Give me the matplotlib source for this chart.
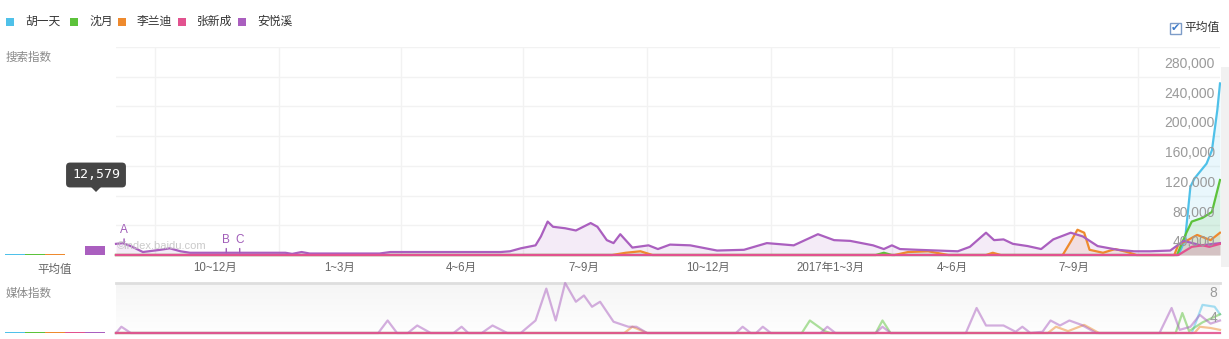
import numpy as np
import pandas as pd
import matplotlib
matplotlib.use('Agg')
import matplotlib.pyplot as plt
from matplotlib.patches import Rectangle, Polygon

plt.rcParams['font.family'] = ['Liberation Sans', 'Noto Sans CJK SC', 'DejaVu Sans']

Names = ['胡一天', '沈月', '李兰迪', '张新成', '安悦溪']
Colors = ['#4fc1e9', '#5cc23b', '#ee8a2e', '#e2528f', '#aa5fbf']

# 搜索指数 (search index)
HuDates = ['2015-09-02', '2017-10-31', '2017-11-05', '2017-11-09', '2017-11-12', '2017-11-21',
           '2017-11-25', '2017-11-29', '2017-12-01']
HuVals = [0, 0, 20000, 92000, 103000, 123000, 141000, 195000, 231000]

ShenDates = ['2015-09-02', '2017-03-20', '2017-03-26', '2017-04-01', '2017-10-30', '2017-11-06',
             '2017-11-10', '2017-11-18', '2017-11-25', '2017-12-01']
ShenVals = [0, 0, 3000, 0, 0, 30000, 45000, 50000, 58000, 101000]

LiDates = ['2015-09-02', '2016-09-05', '2016-09-15', '2016-09-26', '2016-10-05', '2017-04-03',
           '2017-04-13', '2017-04-28', '2017-05-13', '2017-06-10', '2017-06-15', '2017-06-21',
           '2017-08-06', '2017-08-12', '2017-08-17', '2017-08-22', '2017-08-26', '2017-09-05',
           '2017-09-14', '2017-09-23', '2017-09-30', '2017-10-28', '2017-10-31', '2017-11-05',
           '2017-11-14', '2017-11-24', '2017-12-01']
LiVals = [0, 0, 3000, 5000, 0, 0,
          4000, 5000, 0, 0, 3000, 0,
          0, 18000, 34000, 30000, 7000, 3000,
          8000, 4000, 0, 0, 14000, 18000,
          27000, 20000, 30000]

ZhangDates = ['2015-09-02', '2017-10-31', '2017-11-10', '2017-11-18', '2017-11-23', '2017-12-01']
ZhangVals = [0, 0, 11000, 13000, 11000, 15000]

AnDates = ['2015-09-02', '2015-09-07', '2015-09-13', '2015-09-22', '2015-10-05', '2015-10-12',
           '2015-10-20', '2015-10-27', '2015-12-11', '2016-01-06', '2016-01-11', '2016-01-18',
           '2016-01-24', '2016-03-16', '2016-03-24', '2016-05-07', '2016-06-14', '2016-06-21',
           '2016-06-29', '2016-07-10', '2016-07-14', '2016-07-19', '2016-07-23', '2016-08-01',
           '2016-08-09', '2016-08-20', '2016-08-25', '2016-09-01', '2016-09-06', '2016-09-11',
           '2016-09-16', '2016-09-20', '2016-10-02', '2016-10-09', '2016-10-18', '2016-11-02',
           '2016-11-22', '2016-12-12', '2016-12-29', '2017-01-18', '2017-02-05', '2017-02-17',
           '2017-03-01', '2017-03-18', '2017-03-26', '2017-04-01', '2017-04-07', '2017-04-20',
           '2017-05-20', '2017-05-29', '2017-06-10', '2017-06-16', '2017-06-23', '2017-06-30',
           '2017-07-11', '2017-07-21', '2017-07-30', '2017-08-12', '2017-08-21', '2017-09-01',
           '2017-09-16', '2017-09-28', '2017-10-10', '2017-10-25', '2017-11-04', '2017-11-17',
           '2017-12-01']
AnVals = [15000, 16000, 12000, 4000, 7000, 9000,
          5000, 3000, 3000, 3000, 1500, 4000,
          2000, 2000, 4000, 4000, 4000, 5000,
          9000, 13000, 25000, 45000, 38000, 36000,
          33000, 43000, 38000, 20000, 16000, 28000,
          18000, 10000, 13000, 8000, 14000, 13000,
          6000, 7000, 16000, 13000, 28000, 20000,
          19000, 13000, 8000, 13000, 8000, 7000,
          5000, 11000, 30000, 20000, 21000, 15000,
          12000, 8000, 21000, 30000, 25000, 12000,
          7000, 5000, 5000, 6000, 19000, 13000,
          16000]

# 媒体指数 (media index)
HuMediaDates = ['2015-09-02', '2017-11-10', '2017-11-18', '2017-11-27', '2017-12-01']
HuMediaVals = [0, 0, 4.5, 4.2, 3.0]

ShenMediaDates = ['2015-09-02', '2017-01-24', '2017-01-30', '2017-02-10', '2017-02-14', '2017-03-20',
                  '2017-03-25', '2017-03-31', '2017-10-29', '2017-11-03', '2017-11-08', '2017-11-18',
                  '2017-11-27', '2017-12-01']
ShenMediaVals = [0, 0, 2.0, 0.3, 0, 0, 2.0, 0, 0, 3.2, 0.3, 1.7, 2.6, 3.0]

LiMediaDates = ['2015-09-02', '2016-09-14', '2016-09-20', '2016-10-01', '2017-07-26', '2017-08-01',
                '2017-08-10', '2017-08-22', '2017-09-02', '2017-11-12', '2017-11-16', '2017-11-24',
                '2017-12-01']
LiMediaVals = [0, 0, 1.0, 0, 0, 1.0, 0.3, 1.3, 0, 0, 1.0, 0.8, 0.5]

ZhangMediaDates = ['2015-09-02', '2017-12-01']
ZhangMediaVals = [0, 0]

AnMediaDates = ['2015-09-02', '2015-09-06', '2015-09-13', '2016-03-15', '2016-03-22', '2016-03-29',
                '2016-04-06', '2016-04-13', '2016-04-23', '2016-05-10', '2016-05-16', '2016-05-21',
                '2016-05-31', '2016-06-08', '2016-06-19', '2016-06-29', '2016-07-10', '2016-07-18',
                '2016-07-25', '2016-08-01', '2016-08-09', '2016-08-15', '2016-08-21', '2016-08-27',
                '2016-09-06', '2016-09-17', '2016-09-23', '2016-10-01', '2016-12-06', '2016-12-11',
                '2016-12-17', '2016-12-21', '2016-12-26', '2017-01-01', '2017-02-07', '2017-02-12',
                '2017-02-18', '2017-03-20', '2017-03-25', '2017-03-31', '2017-05-26', '2017-06-03',
                '2017-06-10', '2017-06-23', '2017-07-02', '2017-07-07', '2017-07-13', '2017-07-22',
                '2017-07-28', '2017-08-04', '2017-08-11', '2017-08-20', '2017-08-31', '2017-10-17',
                '2017-10-26', '2017-11-01', '2017-11-09', '2017-11-16', '2017-11-24', '2017-12-01']
AnMediaVals = [0, 1.0, 0, 0, 2.0, 0,
               0, 1.2, 0, 0, 1.0, 0,
               0, 1.2, 0, 0, 2.0, 7.1,
               2.0, 8.0, 5.0, 6.0, 4.2, 5.0,
               1.8, 1.0, 1.0, 0, 0, 1.0,
               0, 0, 1.0, 0, 0, 1.0,
               0, 0, 1.0, 0, 0, 4.0,
               1.2, 1.2, 0.2, 1.0, 0, 0.2,
               2.0, 1.2, 2.0, 1.3, 0, 0,
               4.0, 0.5, 1.0, 2.9, 1.5, 2.0]

AvgVals = [1900, 900, 1100, 500, 12579]
MediaAvgVals = [0.15, 0.15, 0.15, 0.15, 0.15]

QuarterStarts = ['2015-10-01', '2016-01-01', '2016-04-01', '2016-07-01', '2016-10-01',
                 '2017-01-01', '2017-04-01', '2017-07-01', '2017-10-01']
QuarterLabelDates = ['2015-11-15', '2016-02-15', '2016-05-16', '2016-08-15', '2016-11-15',
                     '2017-02-14', '2017-05-16', '2017-08-14']
QuarterLabels = ['10~12月', '1~3月', '4~6月', '7~9月', '10~12月', '2017年1~3月', '4~6月', '7~9月']

SearchTicks = [40000, 80000, 120000, 160000, 200000, 240000, 280000]
MediaTicks = [4, 8]

EventLabels = ['A', 'B', 'C']
EventDates = ['2015-09-08', '2015-11-23', '2015-12-03']
EventVals = [16000, 3000, 3000]

SearchSeries = [(HuDates, HuVals), (ShenDates, ShenVals), (LiDates, LiVals),
                (ZhangDates, ZhangVals), (AnDates, AnVals)]
MediaSeries = [(HuMediaDates, HuMediaVals), (ShenMediaDates, ShenMediaVals), (LiMediaDates, LiMediaVals),
               (ZhangMediaDates, ZhangMediaVals), (AnMediaDates, AnMediaVals)]
DrawOrder = [0, 1, 2, 4, 3]

W, H = 1229, 339
fig = plt.figure(figsize=(W / 100, H / 100), dpi=100)


def Box(l, t, r, b):
    return [l / W, 1 - b / H, (r - l) / W, (b - t) / H]


def FigRect(l, t, r, b, **kw):
    fig.patches.append(Rectangle((l / W, 1 - b / H), (r - l) / W, (b - t) / H,
                                 transform=fig.transFigure, **kw))


XMin, XMax = pd.Timestamp('2015-09-02'), pd.Timestamp('2017-12-01')

# ---- main search panel
ax = fig.add_axes(Box(116, 47, 1220, 255))
ax.set_xlim(XMin, XMax)
ax.set_ylim(0, 280000)
ax.axis('off')
for v in SearchTicks:
    ax.axhline(v, color='#f2f2f2', lw=1, zorder=0)
    ax.annotate(f'{v:,}', xy=(1, v), xycoords=('axes fraction', 'data'), xytext=(-5, -17),
                textcoords='offset pixels', ha='right', va='center', color='#9a9a9a', fontsize=10,
                zorder=5)
for d in QuarterStarts:
    ax.axvline(pd.Timestamp(d), color='#f2f2f2', lw=1, zorder=0)
for d, lab in zip(QuarterLabelDates, QuarterLabels):
    ax.annotate(lab, xy=(pd.Timestamp(d), 0), xycoords=('data', 'axes fraction'), xytext=(0, -13),
                textcoords='offset pixels', ha='center', va='center', color='#666666', fontsize=8.3,
                annotation_clip=False)

for i in DrawOrder:
    d, v = SearchSeries[i]
    dd = pd.to_datetime(d)
    ax.fill_between(dd, v, color=Colors[i], alpha=0.12, lw=0, zorder=1)
for i in DrawOrder:
    d, v = SearchSeries[i]
    ax.plot(pd.to_datetime(d), v, color=Colors[i], lw=1.6, zorder=3, clip_on=False,
            solid_joinstyle='round')

for lab, d, v in zip(EventLabels, EventDates, EventVals):
    ax.annotate(lab, xy=(pd.Timestamp(d), v), xytext=(0, 7), textcoords='offset pixels',
                ha='center', va='bottom', color='#a05cb8', fontsize=8.5, zorder=6,
                arrowprops=dict(arrowstyle='-', color='#a05cb8', lw=1, shrinkA=0, shrinkB=0))

fig.text(117 / W, 1 - 246 / H, '©index.baidu.com', color='#c4c4c4', fontsize=8, va='center',
         alpha=0.9)

# ---- average panel (search)
axa = fig.add_axes(Box(5, 47, 105, 255))
axa.set_xlim(-0.5, 4.5)
axa.set_ylim(0, 280000)
axa.axis('off')
axa.bar(range(5), AvgVals, width=1.0, color=Colors, lw=0)
fig.text(55 / W, 1 - 270 / H, '平均值', ha='center', va='center', color='#666666', fontsize=8.3)

# tooltip
fig.text(96 / W, 1 - 175 / H, f'{AvgVals[4]:,}', ha='center', va='center', color='white',
         fontsize=9.5, family='DejaVu Sans Mono',
         bbox=dict(boxstyle='round,pad=0.45,rounding_size=0.3', fc='#454545', ec='none'))
fig.patches.append(Polygon([(91 / W, 1 - 187 / H), (101 / W, 1 - 187 / H), (96 / W, 1 - 192 / H)],
                           closed=True, transform=fig.transFigure, fc='#454545', ec='none'))

# ---- media panel
axm = fig.add_axes(Box(116, 283, 1220, 333))
axm.set_xlim(XMin, XMax)
axm.set_ylim(0, 8)
axm.axis('off')
shade = np.linspace(0.962, 0.995, 50)
grad = np.dstack([shade, shade, shade]).reshape(50, 1, 3)
axm.imshow(grad, extent=[0, 1, 0, 1], transform=axm.transAxes, aspect='auto', origin='upper',
           zorder=0)
axm.axhline(8, color='#dedede', lw=2, zorder=1, clip_on=False)
for v in MediaTicks:
    axm.annotate(str(v), xy=(1, v), xycoords=('axes fraction', 'data'), xytext=(-3, -10),
                 textcoords='offset pixels', ha='right', va='center', color='#9a9a9a', fontsize=10,
                 zorder=5)
for i in DrawOrder:
    d, v = MediaSeries[i]
    a = 0.9 if i == 3 else 0.5
    axm.plot(pd.to_datetime(d), v, color=Colors[i], lw=1.6, alpha=a, zorder=3, clip_on=False,
             solid_joinstyle='round')

axma = fig.add_axes(Box(5, 283, 105, 333))
axma.set_xlim(-0.5, 4.5)
axma.set_ylim(0, 8)
axma.axis('off')
axma.bar(range(5), MediaAvgVals, width=1.0, color=Colors, lw=0)

# ---- labels, legend, checkbox
fig.text(6 / W, 1 - 58 / H, '搜索指数', va='center', color='#888888', fontsize=8.3)
fig.text(6 / W, 1 - 294 / H, '媒体指数', va='center', color='#888888', fontsize=8.3)

LegendX = [6, 70, 118, 178, 238]
for x, n, c in zip(LegendX, Names, Colors):
    FigRect(x, 18, x + 8, 26, fc=c, ec='none')
    fig.text((x + 19) / W, 1 - 22 / H, n, va='center', color='#333333', fontsize=8.5)

FigRect(1170, 23, 1181, 34, fc='white', ec='#7d9cc8', lw=1)
fig.text(1175.5 / W, 1 - 28 / H, '✔', ha='center', va='center', color='#3b79c9', fontsize=8,
         family='DejaVu Sans')
fig.text(1184 / W, 1 - 28 / H, '平均值', va='center', color='#333333', fontsize=8.5)

FigRect(1221, 67, 1229, 267, fc='#f1f1f1', ec='none')

fig.savefig('out.png', dpi=100)
